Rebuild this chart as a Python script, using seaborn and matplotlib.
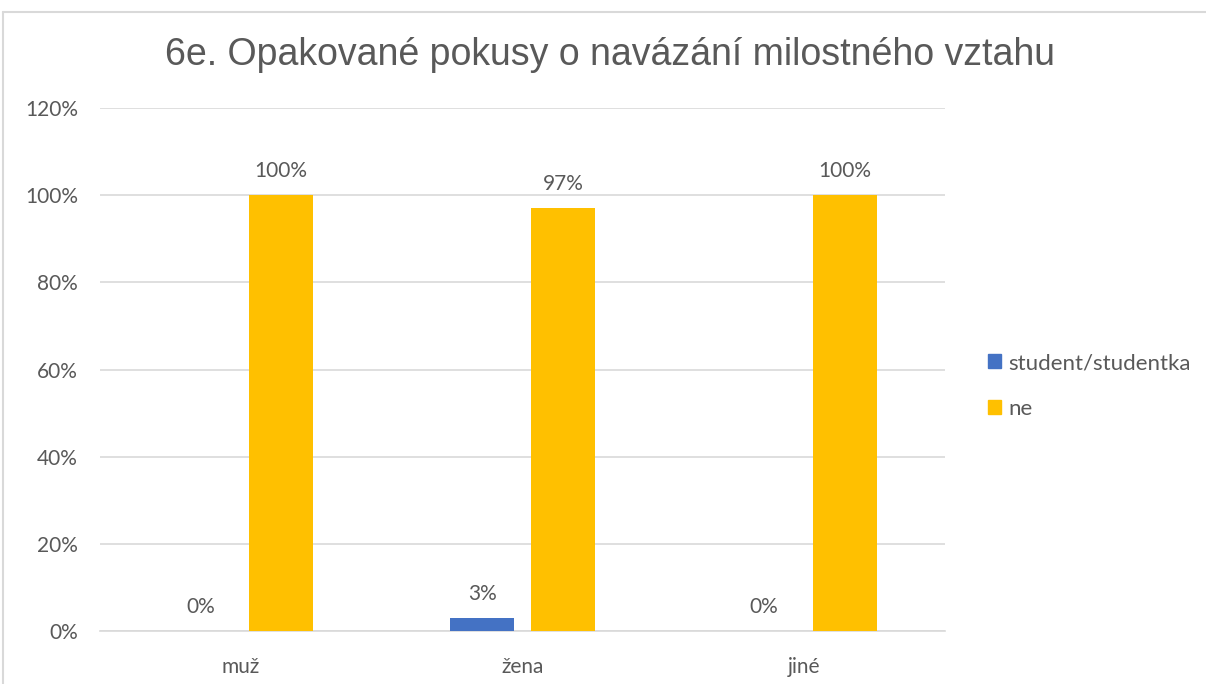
import pandas as pd
import seaborn as sns
import matplotlib.pyplot as plt
from matplotlib.lines import Line2D

# Values (percent)
categories = ["muž", "žena", "jiné"]
series_names = ["student/studentka", "ne"]
student_vals = [0, 3, 0]
ne_vals = [100, 97, 100]
y_ticks = [0, 20, 40, 60, 80, 100, 120]

df = pd.DataFrame({
    "kategorie": categories * 2,
    "serie": [series_names[0]] * 3 + [series_names[1]] * 3,
    "hodnota": student_vals + ne_vals,
})

text_col = "#595959"
grid_col = "#D9D9D9"
palette = {"student/studentka": "#4472C4", "ne": "#FFC000"}

sns.set_style("white")
plt.rcParams["font.family"] = ["Lato", "DejaVu Sans"]

fig = plt.figure(figsize=(12.06, 6.84), dpi=100)
ax = fig.add_axes([100 / 1206, 1 - 631 / 684, 845 / 1206, 523 / 684])

sns.barplot(data=df, x="kategorie", y="hodnota", hue="serie", order=categories,
            hue_order=series_names, palette=palette, width=0.574, gap=0.21,
            saturation=1, linewidth=0, ax=ax, zorder=3)

# data labels
for cont in ax.containers:
    for bar in cont:
        h = bar.get_height()
        ax.annotate(f"{h:.0f}%", (bar.get_x() + bar.get_width() / 2, h),
                    xytext=(0, 10), textcoords="offset points",
                    ha="center", va="bottom", fontsize=15, color=text_col)

ax.set_ylim(0, 120)
ax.set_yticks(y_ticks)
ax.set_yticklabels([f"{t}%" for t in y_ticks])
ax.set_xlim(-0.5, 2.5)
ax.yaxis.grid(True, color=grid_col, linewidth=1.2, zorder=0)
ax.set_xlabel("")
ax.set_ylabel("")
for s in ["top", "right", "left"]:
    ax.spines[s].set_visible(False)
ax.spines["bottom"].set_color(grid_col)
ax.spines["bottom"].set_linewidth(1.2)
ax.tick_params(axis="both", length=0, labelsize=15, labelcolor=text_col)
ax.tick_params(axis="y", pad=16)
ax.tick_params(axis="x", pad=19)

handles = [plt.Rectangle((0, 0), 1, 1, color=palette[n]) for n in series_names]
ax.legend(handles, series_names, loc="center left", bbox_to_anchor=(977 / 1206, 1 - 386 / 684),
          bbox_transform=fig.transFigure, frameon=False, fontsize=16,
          labelcolor=text_col, handlelength=0.6, handleheight=0.6,
          handletextpad=0.3, labelspacing=1.15, borderpad=0)

fig.text(610 / 1206, 1 - 55 / 684, "6e. Opakované pokusy o navázání milostného vztahu",
         ha="center", va="center", fontsize=27, color=text_col,
         family=["Liberation Sans", "DejaVu Sans"])

# chart border (cropped chart area)
fig.add_artist(Line2D([3 / 1206, 3 / 1206], [0, 1 - 12 / 684], transform=fig.transFigure,
                      color=grid_col, linewidth=1.5))
fig.add_artist(Line2D([3 / 1206, 1], [1 - 12 / 684, 1 - 12 / 684], transform=fig.transFigure,
                      color=grid_col, linewidth=1.5))

fig.savefig("out.png", dpi=100)
